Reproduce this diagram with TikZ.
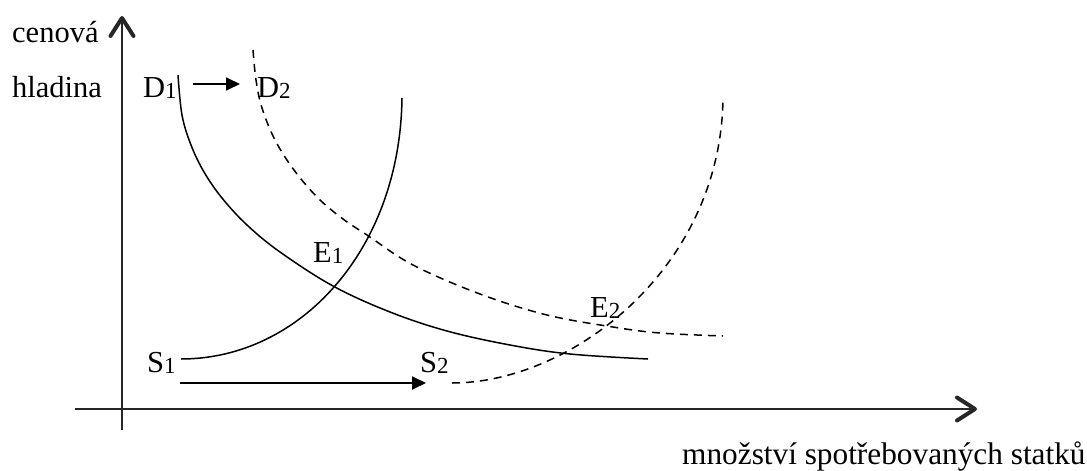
\documentclass[tikz,border=0pt]{standalone}
\usepackage{fontspec}
\setmainfont{Liberation Serif}
\usetikzlibrary{arrows.meta}
\newcommand\sbs[1]{\raisebox{-1.5pt}{\fontsize{23}{23}\selectfont #1}}
\begin{document}
\begin{tikzpicture}[x=1pt,y=-1pt,
  lbl/.style={inner sep=0pt,anchor=base west,font=\fontsize{30.5}{34}\selectfont},
  axis/.style={line width=1.8pt,draw=black!85,-{Straight Barb[length=18pt,width=23pt,line width=4pt,line join=round,line cap=round]}},
  shiftarrow/.style={line width=1.8pt,-{Triangle[length=14pt,width=13pt]}},
  curve/.style={line width=1.5pt},
  dcurve/.style={line width=1.5pt,dash pattern=on 8pt off 6pt}]
\path[use as bounding box] (0,0) rectangle (1087,471);
% axes
\coordinate (yb) at (122,430);
\coordinate (yt) at (122,16);
\coordinate (xl) at (75,409);
\coordinate (xr) at (977,409);
\draw[axis] (yb) -- (yt);
\draw[axis] (xl) -- (xr);
% axis labels
\node[lbl] (cen) at (12,42) {cenová};
\node[lbl] (hla) at (12,97) {hladina};
\node[lbl,font=\fontsize{31.3}{34}\selectfont] (qty) at (682,464) {množství spotřebovaných statků};
% curve labels
\node[lbl] (D1) at (143,97) {D\sbs{1}};
\node[lbl] (D2) at (257,97) {D\sbs{2}};
\node[lbl] (E1) at (313,262) {E\sbs{1}};
\node[lbl] (E2) at (590,317) {E\sbs{2}};
\node[lbl] (S1) at (147,372) {S\sbs{1}};
\node[lbl] (S2) at (420,372) {S\sbs{2}};
% shift arrows
\coordinate (da) at (193,84);
\coordinate (db) at (240,84);
\coordinate (sa) at (180,383);
\coordinate (sb) at (426,383);
\draw[shiftarrow] (da) -- (db);
\draw[shiftarrow] (sa) -- (sb);
% D1
\draw[curve] plot[smooth,tension=0.6] coordinates {(178,75) (182,115) (191,145) (204,172) (222,198) (247,225) (280,252) (333,286) (390,312) (447,331) (510,345) (570,354) (648,359)};
% S1
\draw[curve] (181,359) .. controls (300,359) and (400,250) .. (402,98);
% D2
\draw[dcurve] plot[smooth,tension=0.6] coordinates {(253,50) (256,80) (262,108) (275,140) (294,170) (318,198) (343,219) (367,235) (413,265) (480,294) (547,315) (613,327) (660,333) (723,336)};
% S2
\draw[dcurve] (452,383) .. controls (570,383) and (721,270) .. (723,98);
\end{tikzpicture}
\end{document}
